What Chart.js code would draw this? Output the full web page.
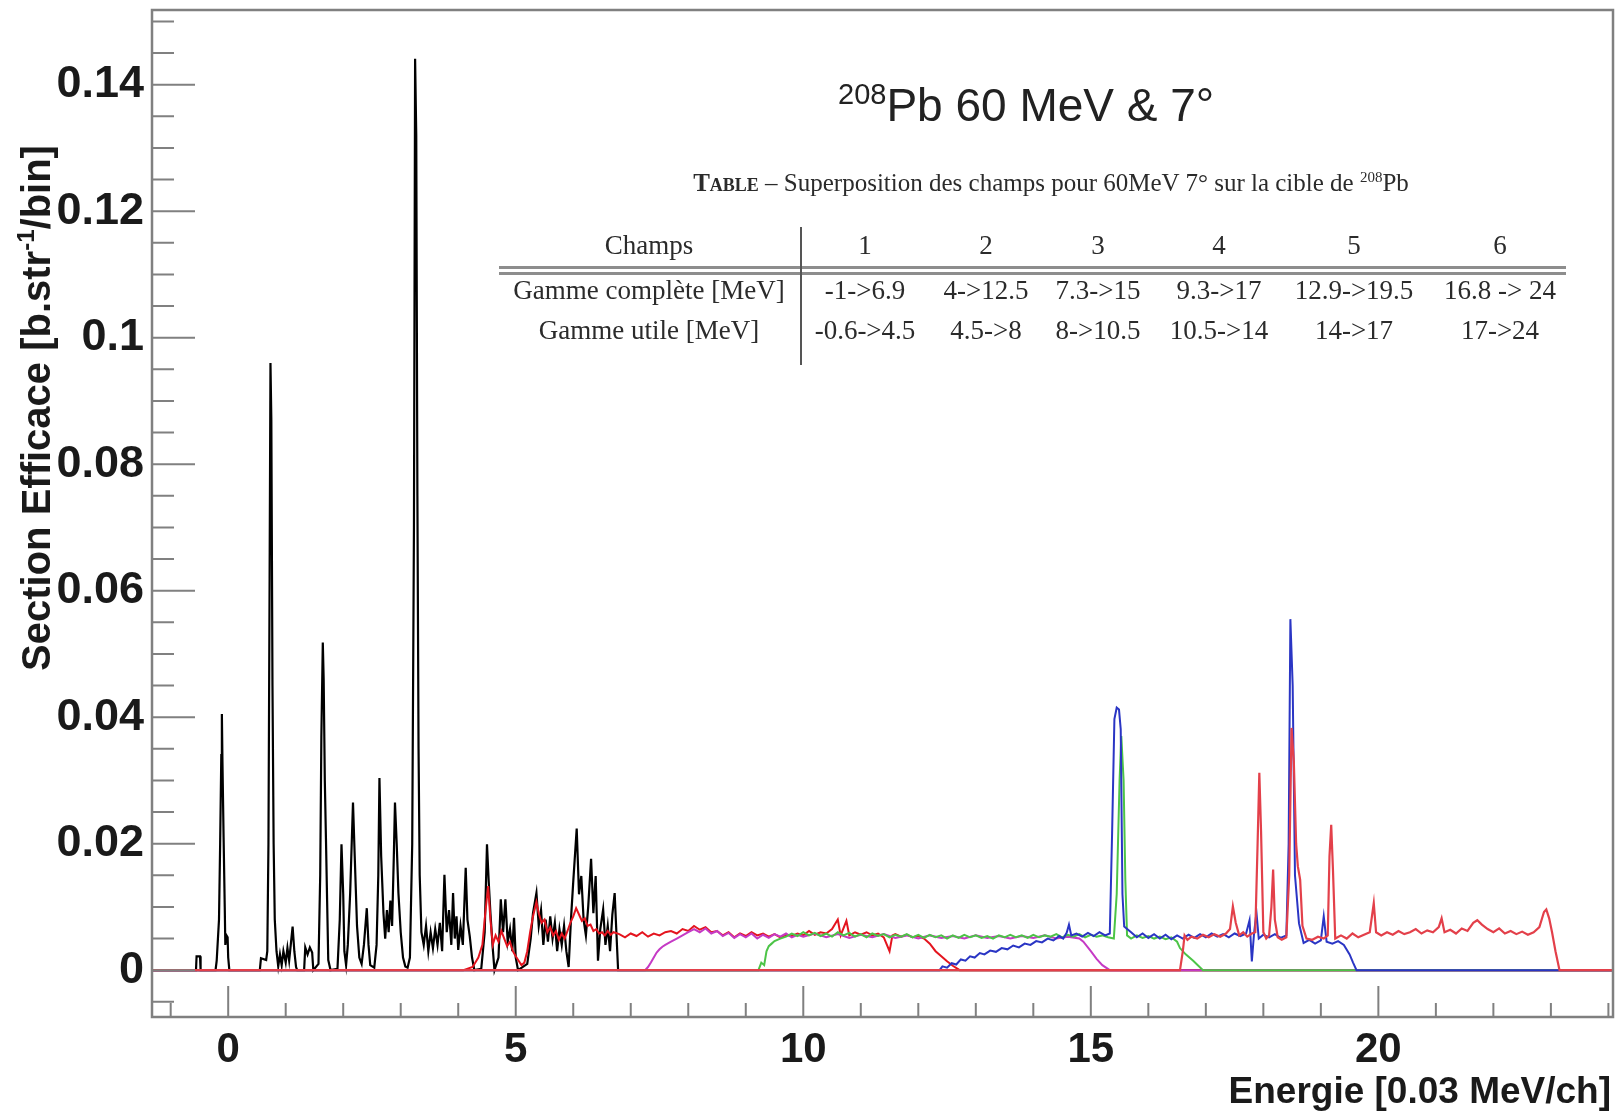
<!DOCTYPE html>
<html>
<head>
<meta charset="utf-8">
<title>208Pb 60 MeV 7°</title>
<script src="https://cdn.jsdelivr.net/npm/chart.js@4.4.1/dist/chart.umd.min.js"></script>
<style>
  body { margin: 0; background: #fff; }
  #wrap { position: relative; width: 1619px; height: 1114px; overflow: hidden; }
  #spectre { position: absolute; left: 0; top: 0; }
  .txt { position: absolute; white-space: nowrap; line-height: 1; }
  .titre { font-family: 'Liberation Sans', Arial, sans-serif; font-size: 46px; color: #222; left: 838px; top: 82px; }
  .titre sup { font-size: 29px; vertical-align: 17px; line-height: 0; }
  .tab { font-family: 'Liberation Serif', 'Times New Roman', serif; color: #2b2b2b; text-align: center; width: 1000px; }
  .tab sup { font-size: 15px; vertical-align: 9px; line-height: 0; }
  .cap { font-size: 25px; }
  .cell { font-size: 27px; }
  .sc { font-variant: small-caps; font-weight: bold; }
  .trait { position: absolute; background: #8d8d8d; }
</style>
</head>
<body>
<div id="wrap">
  <canvas id="spectre" width="1619" height="1114"></canvas>
  <div class="txt titre"><sup>208</sup>Pb 60 MeV &amp; 7°</div>
  <div id="table"></div>
</div>
<script>
// axes
const xTicks = [0, 5, 10, 15, 20];
const xMinor = [-1, 0, 1, 2, 3, 4, 5, 6, 7, 8, 9, 10, 11, 12, 13, 14, 15, 16, 17, 18, 19, 20, 21, 22, 23, 24];
const yTicks = [0, 0.02, 0.04, 0.06, 0.08, 0.1, 0.12, 0.14];
const yMinor = [-0.005, 0, 0.005, 0.01, 0.015, 0.02, 0.025, 0.03, 0.035, 0.04, 0.045, 0.05, 0.055, 0.06, 0.065, 0.07,
  0.075, 0.08, 0.085, 0.09, 0.095, 0.1, 0.105, 0.11, 0.115, 0.12, 0.125, 0.13, 0.135, 0.14, 0.145, 0.15];
const xMin = -1.325, xMax = 24.08;
const yMin = -0.0074, yMax = 0.1518;

// table in the plot
const tabColonnes = ['Champs', '1', '2', '3', '4', '5', '6'];
const gammeComplete = ['Gamme complète [MeV]', '-1->6.9', '4->12.5', '7.3->15', '9.3->17', '12.9->19.5', '16.8 -> 24'];
const gammeUtile = ['Gamme utile [MeV]', '-0.6->4.5', '4.5->8', '8->10.5', '10.5->14', '14->17', '17->24'];

// champ 1 (noir)
const champ1 = [[-1.325, 0], [-0.56, 0], [-0.55, 0.0022], [-0.49, 0.0022], [-0.48, 0], [-0.22, 0], [-0.2, 0.0015],
  [-0.16, 0.008], [-0.14, 0.02], [-0.12, 0.034], [-0.11, 0.0405], [-0.1, 0.033], [-0.08, 0.021], [-0.06, 0.01],
  [-0.05, 0.004], [-0.03, 0.0055], [-0.01, 0.0052], [0, 0.002], [0.02, 0], [0.55, 0], [0.57, 0.0019], [0.66, 0.0016],
  [0.68, 0.003], [0.7, 0.02], [0.72, 0.062], [0.735, 0.096], [0.75, 0.087], [0.77, 0.045], [0.79, 0.02], [0.81, 0.008],
  [0.84, 0.003], [0.87, 0.0006], [0.9, 0.0025], [0.93, 0.0008], [0.96, 0.003], [1.0, 0.0012], [1.03, 0.0035],
  [1.06, 0.0015], [1.09, 0.0042], [1.12, 0.0069], [1.15, 0.003], [1.18, 0.0005], [1.2, 0], [1.32, 0], [1.34, 0.0036],
  [1.38, 0.0025], [1.42, 0.0036], [1.46, 0.0028], [1.48, 0], [1.57, 0.001], [1.6, 0.015], [1.62, 0.037],
  [1.645, 0.0518], [1.66, 0.046], [1.68, 0.03], [1.7, 0.0207], [1.72, 0.011], [1.74, 0.0016], [1.78, 0], [1.9, 0.0002],
  [1.94, 0.008], [1.97, 0.0199], [2.0, 0.012], [2.02, 0.003], [2.05, 0.0008], [2.08, 0.004], [2.12, 0.012],
  [2.17, 0.0265], [2.2, 0.018], [2.24, 0.007], [2.28, 0.002], [2.32, 0.001], [2.36, 0.004], [2.41, 0.0098],
  [2.44, 0.004], [2.47, 0.0008], [2.54, 0.0004], [2.58, 0.004], [2.61, 0.015], [2.63, 0.0304], [2.66, 0.018],
  [2.7, 0.009], [2.73, 0.005], [2.76, 0.0095], [2.79, 0.006], [2.82, 0.011], [2.85, 0.007], [2.88, 0.018],
  [2.9, 0.0265], [2.93, 0.02], [2.96, 0.0122], [3.0, 0.006], [3.04, 0.002], [3.08, 0.0006], [3.12, 0.0004],
  [3.16, 0.002], [3.2, 0.02], [3.23, 0.07], [3.25, 0.1441], [3.27, 0.132], [3.29, 0.075], [3.31, 0.035], [3.33, 0.015],
  [3.36, 0.006], [3.4, 0.004], [3.44, 0.007], [3.48, 0.003], [3.52, 0.006], [3.56, 0.0035], [3.6, 0.0065],
  [3.64, 0.004], [3.68, 0.0075], [3.72, 0.003], [3.76, 0.0151], [3.8, 0.006], [3.84, 0.0095], [3.88, 0.004],
  [3.91, 0.0122], [3.94, 0.005], [3.97, 0.0085], [4.0, 0.0032], [4.04, 0.007], [4.08, 0.004], [4.13, 0.0162],
  [4.16, 0.008], [4.2, 0.0054], [4.24, 0.002], [4.28, 0], [4.4, 0.0002], [4.46, 0.006], [4.5, 0.0199], [4.53, 0.014],
  [4.56, 0.009], [4.6, 0.0035], [4.63, 0], [4.7, 0.002], [4.74, 0.0112], [4.78, 0.006], [4.82, 0.0112], [4.86, 0.0045],
  [4.9, 0.0065], [4.94, 0.003], [4.97, 0.0083], [5.0, 0.002], [5.04, 0], [5.2, 0.001], [5.26, 0.005], [5.3, 0.009],
  [5.36, 0.0122], [5.4, 0.007], [5.44, 0.0095], [5.48, 0.004], [5.52, 0.008], [5.56, 0.0045], [5.6, 0.0085],
  [5.64, 0.005], [5.68, 0.0075], [5.72, 0.003], [5.76, 0.0065], [5.8, 0.004], [5.84, 0.007], [5.88, 0.003],
  [5.92, 0.0005], [5.96, 0.008], [6.0, 0.014], [6.06, 0.0224], [6.1, 0.012], [6.14, 0.0149], [6.18, 0.008],
  [6.22, 0.0055], [6.26, 0.01], [6.31, 0.0176], [6.35, 0.009], [6.39, 0.0149], [6.43, 0.0015], [6.47, 0.0065],
  [6.52, 0.0096], [6.56, 0.004], [6.6, 0.007], [6.64, 0.003], [6.68, 0.0088], [6.72, 0.0122], [6.75, 0.006],
  [6.78, 0], [24.08, 0]];

// champ 2 (rouge)
const champ2 = [[-1.325, 0], [4.09, 0], [4.25, 0.0005], [4.35, 0.002], [4.42, 0.004], [4.47, 0.009], [4.52, 0.0133],
  [4.56, 0.008], [4.6, 0.004], [4.65, 0.0055], [4.7, 0.0045], [4.75, 0.0062], [4.8, 0.005], [4.85, 0.0038],
  [4.9, 0.0045], [4.95, 0.003], [5.0, 0.0022], [5.05, 0.0015], [5.1, 0.0008], [5.15, 0.0012], [5.2, 0.003],
  [5.25, 0.006], [5.3, 0.0085], [5.36, 0.0108], [5.4, 0.009], [5.45, 0.0075], [5.5, 0.008], [5.55, 0.006],
  [5.6, 0.0068], [5.65, 0.0055], [5.7, 0.0062], [5.75, 0.0048], [5.8, 0.0058], [5.85, 0.005], [5.9, 0.0062],
  [5.95, 0.0075], [6.0, 0.0085], [6.05, 0.0098], [6.1, 0.0088], [6.15, 0.0078], [6.2, 0.0082], [6.25, 0.007],
  [6.3, 0.0072], [6.35, 0.0062], [6.4, 0.0065], [6.45, 0.0058], [6.5, 0.006], [6.55, 0.0055], [6.6, 0.0062],
  [6.65, 0.0056], [6.7, 0.006], [6.8, 0.0057], [6.9, 0.0052], [7.0, 0.0058], [7.1, 0.0054], [7.2, 0.006],
  [7.3, 0.0053], [7.4, 0.0058], [7.5, 0.0055], [7.6, 0.006], [7.7, 0.0062], [7.8, 0.0058], [7.9, 0.0065],
  [8.0, 0.0062], [8.1, 0.007], [8.2, 0.0064], [8.3, 0.0068], [8.4, 0.006], [8.5, 0.0062], [8.6, 0.0055], [8.7, 0.006],
  [8.8, 0.0052], [8.9, 0.0058], [9.0, 0.0054], [9.1, 0.006], [9.2, 0.0055], [9.3, 0.0058], [9.4, 0.0053],
  [9.5, 0.0057], [9.6, 0.0052], [9.7, 0.0056], [9.8, 0.0054], [9.9, 0.0058], [10.0, 0.0055], [10.1, 0.0062],
  [10.2, 0.0056], [10.3, 0.006], [10.4, 0.0058], [10.5, 0.0065], [10.6, 0.008], [10.65, 0.0055], [10.75, 0.0078],
  [10.8, 0.0055], [10.9, 0.006], [11.0, 0.0056], [11.1, 0.006], [11.2, 0.0055], [11.3, 0.0058], [11.4, 0.0052],
  [11.5, 0.003], [11.55, 0.0055], [11.6, 0.0057], [11.7, 0.0053], [11.8, 0.0056], [11.9, 0.0052], [12.0, 0.0054],
  [12.1, 0.005], [12.2, 0.0042], [12.3, 0.003], [12.4, 0.0022], [12.5, 0.0014], [12.6, 0.0007], [12.72, 0],
  [24.08, 0]];

// champ 3 (magenta)
const champ3 = [[-1.325, 0], [7.25, 0], [7.3, 0.0005], [7.35, 0.0012], [7.4, 0.002], [7.45, 0.0028], [7.5, 0.0033],
  [7.55, 0.0037], [7.6, 0.004], [7.7, 0.0045], [7.8, 0.005], [7.9, 0.0055], [8.0, 0.006], [8.1, 0.0065], [8.2, 0.006],
  [8.3, 0.0066], [8.4, 0.0058], [8.5, 0.0062], [8.6, 0.0054], [8.7, 0.0059], [8.8, 0.0051], [8.9, 0.0057],
  [9.0, 0.0052], [9.1, 0.0058], [9.2, 0.005], [9.3, 0.0056], [9.4, 0.0051], [9.5, 0.0057], [9.6, 0.0053],
  [9.7, 0.0058], [9.8, 0.0052], [9.9, 0.0056], [10.0, 0.0053], [10.2, 0.0058], [10.4, 0.0052], [10.6, 0.0057],
  [10.8, 0.0051], [11.0, 0.0056], [11.2, 0.0052], [11.4, 0.0057], [11.6, 0.0051], [11.8, 0.0055], [12.0, 0.005],
  [12.2, 0.0055], [12.4, 0.0051], [12.6, 0.0054], [12.8, 0.005], [13.0, 0.0055], [13.2, 0.0051], [13.4, 0.0054],
  [13.6, 0.005], [13.8, 0.0054], [14.0, 0.0051], [14.2, 0.0055], [14.4, 0.005], [14.6, 0.0053], [14.8, 0.005],
  [14.87, 0.0045], [15.0, 0.003], [15.1, 0.0018], [15.2, 0.0008], [15.33, 0], [24.08, 0]];

// champ 4 (vert)
const champ4 = [[-1.325, 0], [9.22, 0], [9.27, 0.0012], [9.32, 0.0008], [9.36, 0.003], [9.4, 0.0038], [9.45, 0.0042],
  [9.5, 0.0046], [9.6, 0.005], [9.7, 0.0053], [9.8, 0.0058], [9.9, 0.0054], [10.0, 0.006], [10.1, 0.0055],
  [10.2, 0.0059], [10.3, 0.0054], [10.4, 0.0058], [10.5, 0.0053], [10.6, 0.006], [10.7, 0.0055], [10.8, 0.0059],
  [10.9, 0.0053], [11.0, 0.0057], [11.1, 0.0052], [11.2, 0.0058], [11.3, 0.0054], [11.4, 0.0057], [11.5, 0.0052],
  [11.6, 0.0056], [11.7, 0.0053], [11.8, 0.0057], [11.9, 0.0052], [12.0, 0.0056], [12.1, 0.0051], [12.2, 0.0056],
  [12.3, 0.0052], [12.4, 0.0055], [12.5, 0.005], [12.6, 0.0055], [12.7, 0.0051], [12.8, 0.0056], [12.9, 0.0052],
  [13.0, 0.0055], [13.1, 0.0051], [13.2, 0.0054], [13.3, 0.005], [13.4, 0.0055], [13.5, 0.0052], [13.6, 0.0056],
  [13.7, 0.0052], [13.8, 0.0055], [13.9, 0.0051], [14.0, 0.0056], [14.1, 0.0052], [14.2, 0.0055], [14.3, 0.0053],
  [14.4, 0.0057], [14.5, 0.0052], [14.6, 0.0056], [14.7, 0.0053], [14.8, 0.0057], [14.9, 0.0052], [15.0, 0.0056],
  [15.1, 0.0053], [15.2, 0.0055], [15.3, 0.0052], [15.4, 0.005], [15.45, 0.012], [15.5, 0.03], [15.53, 0.037],
  [15.57, 0.03], [15.6, 0.0143], [15.63, 0.0055], [15.7, 0.005], [15.8, 0.0055], [15.9, 0.0051], [16.0, 0.0054],
  [16.1, 0.005], [16.2, 0.0053], [16.3, 0.0049], [16.4, 0.0052], [16.5, 0.0045], [16.55, 0.0035], [16.65, 0.0025],
  [16.78, 0.0015], [16.95, 0], [24.08, 0]];

// champ 5 (bleu)
const champ5 = [[-1.325, 0], [12.37, 0], [12.42, 0.0006], [12.5, 0.0004], [12.58, 0.0011], [12.66, 0.0009],
  [12.74, 0.0017], [12.82, 0.0015], [12.9, 0.0022], [12.98, 0.002], [13.07, 0.0027], [13.15, 0.0025], [13.25, 0.0031],
  [13.35, 0.0029], [13.45, 0.0035], [13.55, 0.0033], [13.65, 0.0039], [13.75, 0.0036], [13.85, 0.0042],
  [13.95, 0.004], [14.05, 0.0046], [14.15, 0.0044], [14.25, 0.005], [14.35, 0.0047], [14.45, 0.0054], [14.52, 0.005],
  [14.58, 0.0059], [14.62, 0.0072], [14.66, 0.0055], [14.75, 0.0058], [14.85, 0.0053], [14.95, 0.0059],
  [15.05, 0.0054], [15.15, 0.006], [15.25, 0.0055], [15.33, 0.0058], [15.37, 0.0217], [15.41, 0.0397],
  [15.45, 0.0415], [15.49, 0.0412], [15.52, 0.0381], [15.55, 0.012], [15.58, 0.0069], [15.7, 0.006], [15.8, 0.0052],
  [15.9, 0.0058], [16.0, 0.0051], [16.1, 0.0057], [16.2, 0.005], [16.3, 0.0056], [16.4, 0.0049], [16.5, 0.0055],
  [16.6, 0.005], [16.7, 0.0056], [16.8, 0.0051], [16.9, 0.0057], [17.0, 0.0052], [17.1, 0.0058], [17.2, 0.0053],
  [17.3, 0.0057], [17.4, 0.0052], [17.5, 0.0058], [17.6, 0.0054], [17.7, 0.0058], [17.76, 0.0079], [17.8, 0.0014],
  [17.84, 0.006], [17.88, 0.0091], [17.92, 0.005], [18.0, 0.0056], [18.1, 0.0052], [18.2, 0.0057], [18.3, 0.0051],
  [18.4, 0.0055], [18.44, 0.02], [18.47, 0.0555], [18.51, 0.045], [18.55, 0.015], [18.62, 0.0074], [18.7, 0.0043],
  [18.8, 0.0048], [18.9, 0.0042], [19.0, 0.0047], [19.05, 0.0085], [19.1, 0.0045], [19.2, 0.0042], [19.3, 0.0046],
  [19.4, 0.004], [19.5, 0.0025], [19.56, 0.0012], [19.62, 0], [24.08, 0]];

// champ 6 (rouge)
const champ6 = [[-1.325, 0], [16.55, 0], [16.6, 0.003], [16.63, 0.0055], [16.68, 0.0048], [16.75, 0.0053],
  [16.85, 0.005], [16.95, 0.0056], [17.05, 0.0052], [17.15, 0.0057], [17.25, 0.0053], [17.35, 0.0058],
  [17.42, 0.0065], [17.47, 0.0101], [17.52, 0.0075], [17.58, 0.0055], [17.65, 0.006], [17.72, 0.0053], [17.8, 0.0058],
  [17.86, 0.006], [17.9, 0.02], [17.93, 0.0312], [17.96, 0.022], [18.0, 0.006], [18.05, 0.005], [18.1, 0.0055],
  [18.14, 0.01], [18.17, 0.0159], [18.2, 0.008], [18.25, 0.0052], [18.32, 0.0048], [18.4, 0.0052], [18.45, 0.015],
  [18.49, 0.0383], [18.53, 0.033], [18.57, 0.02], [18.6, 0.0164], [18.64, 0.0143], [18.68, 0.007], [18.75, 0.005],
  [18.85, 0.0048], [18.95, 0.0053], [19.05, 0.005], [19.12, 0.0055], [19.15, 0.018], [19.18, 0.023], [19.21, 0.016],
  [19.25, 0.005], [19.35, 0.0055], [19.45, 0.005], [19.55, 0.0058], [19.65, 0.0052], [19.75, 0.0056], [19.85, 0.006],
  [19.92, 0.0106], [19.96, 0.006], [20.05, 0.0055], [20.15, 0.006], [20.25, 0.0056], [20.35, 0.0062],
  [20.45, 0.0057], [20.55, 0.006], [20.65, 0.0065], [20.75, 0.0058], [20.85, 0.0063], [20.95, 0.006], [21.05, 0.0068],
  [21.1, 0.0082], [21.15, 0.006], [21.25, 0.0064], [21.35, 0.0058], [21.45, 0.0066], [21.55, 0.0062], [21.65, 0.0075],
  [21.72, 0.0079], [21.8, 0.0072], [21.9, 0.0065], [22.0, 0.006], [22.1, 0.0066], [22.2, 0.0058], [22.3, 0.0062],
  [22.4, 0.0057], [22.5, 0.0061], [22.6, 0.0056], [22.7, 0.006], [22.8, 0.0068], [22.88, 0.0092], [22.92, 0.0096],
  [22.97, 0.0082], [23.02, 0.006], [23.08, 0.003], [23.15, 0], [24.08, 0]];

const champs = [champ1, champ2, champ3, champ4, champ5, champ6];
const couleurs = ['#000000', '#e4141e', '#c53ac5', '#4cc447', '#2a35c4', '#e3404a'];
const epaisseurs = [2.2, 2, 2, 2, 2, 2.2];

// build the overlaid table
function placeTexte(parent, cls, html, cx, baseline, size) {
  const d = document.createElement('div');
  d.className = 'txt tab ' + cls;
  d.innerHTML = html;
  d.style.left = (cx - 500) + 'px';
  d.style.top = (baseline - size * 0.8375) + 'px';
  parent.appendChild(d);
}
function placeTrait(parent, x, y, w, h, couleur) {
  const d = document.createElement('div');
  d.className = 'trait';
  d.style.left = x + 'px';
  d.style.top = y + 'px';
  d.style.width = w + 'px';
  d.style.height = h + 'px';
  if (couleur) d.style.background = couleur;
  parent.appendChild(d);
}
const table = document.getElementById('table');
const colX = [649, 865, 986, 1098, 1219, 1354, 1500];
placeTexte(table, 'cap', '<span class="sc">Table</span> – Superposition des champs pour 60MeV 7° sur la cible de <sup>208</sup>Pb', 1051, 191, 25);
[tabColonnes, gammeComplete, gammeUtile].forEach((ligne, r) => {
  ligne.forEach((t, c) => placeTexte(table, 'cell', t, colX[c], [255, 300, 340][r], 27));
});
placeTrait(table, 499, 266, 1067, 2.5);
placeTrait(table, 499, 272, 1067, 2.5);
placeTrait(table, 800, 227, 1.5, 138, '#555');

// frame + inner ticks, ROOT style
const cadre = {
  id: 'cadre',
  afterDatasetsDraw(chart) {
    const { ctx, chartArea: a, scales: { x, y } } = chart;
    ctx.save();
    ctx.strokeStyle = '#808080';
    ctx.lineWidth = 2;
    ctx.beginPath();
    yMinor.forEach(v => {
      const py = y.getPixelForValue(v);
      const major = yTicks.some(t => Math.abs(t - v) < 1e-9);
      ctx.moveTo(a.left, py);
      ctx.lineTo(a.left + (major ? 43 : 22), py);
    });
    xMinor.forEach(v => {
      const px = x.getPixelForValue(v);
      const major = xTicks.includes(v);
      ctx.moveTo(px, a.bottom);
      ctx.lineTo(px, a.bottom - (major ? 31 : 14));
    });
    ctx.stroke();
    ctx.lineWidth = 2.5;
    ctx.strokeRect(a.left, a.top, a.right - a.left, a.bottom - a.top);
    ctx.restore();
  }
};

// axis titles
const titresAxes = {
  id: 'titresAxes',
  afterDraw(chart) {
    const ctx = chart.ctx;
    ctx.save();
    ctx.fillStyle = '#1a1a1a';
    ctx.textBaseline = 'alphabetic';
    ctx.font = "bold 37px 'Liberation Sans', Arial, sans-serif";
    ctx.textAlign = 'right';
    ctx.fillText('Energie [0.03 MeV/ch]', 1611, 1103);

    const parts = [['Section Efficace [b.str', 40, 0], ['-1', 24, -16], ['/bin]', 40, 0]];
    let total = 0;
    parts.forEach(p => { ctx.font = `bold ${p[1]}px 'Liberation Sans', Arial, sans-serif`; total += ctx.measureText(p[0]).width; });
    ctx.translate(50, 408);
    ctx.rotate(-Math.PI / 2);
    ctx.textAlign = 'left';
    let pos = -total / 2;
    parts.forEach(p => {
      ctx.font = `bold ${p[1]}px 'Liberation Sans', Arial, sans-serif`;
      ctx.fillText(p[0], pos, p[2]);
      pos += ctx.measureText(p[0]).width;
    });
    ctx.restore();
  }
};

Chart.defaults.font.family = "'Liberation Sans', Arial, sans-serif";
Chart.defaults.color = '#1a1a1a';

new Chart(document.getElementById('spectre'), {
  type: 'line',
  data: {
    datasets: champs.map((c, i) => ({
      label: 'Champ ' + (i + 1),
      data: c.map(([x, y]) => ({ x, y })),
      borderColor: couleurs[i],
      borderWidth: epaisseurs[i],
      pointRadius: 0,
      tension: 0,
      fill: false,
      order: 6 - i
    }))
  },
  options: {
    responsive: false,
    animation: false,
    layout: { padding: { left: 0, top: 10, right: 6, bottom: 0 } },
    plugins: { legend: { display: false }, tooltip: { enabled: false } },
    scales: {
      x: {
        type: 'linear',
        min: xMin,
        max: xMax,
        grid: { display: false, drawTicks: false, tickLength: 0 },
        border: { display: false },
        afterBuildTicks: s => { s.ticks = xTicks.map(v => ({ value: v })); },
        afterFit: s => { s.height = 97; s.paddingLeft = 0; s.paddingRight = 0; },
        ticks: { font: { size: 42, weight: 'bold' }, padding: 8, maxRotation: 0, autoSkip: false, callback: v => String(v) }
      },
      y: {
        type: 'linear',
        min: yMin,
        max: yMax,
        grid: { display: false, drawTicks: false, tickLength: 0 },
        border: { display: false },
        afterBuildTicks: s => { s.ticks = yTicks.map(v => ({ value: v })); },
        afterFit: s => { s.width = 152; s.paddingTop = 0; s.paddingBottom = 0; },
        ticks: { font: { size: 45, weight: 'bold' }, padding: 8, autoSkip: false, callback: v => String(v) }
      }
    }
  },
  plugins: [cadre, titresAxes]
});
</script>
</body>
</html>
